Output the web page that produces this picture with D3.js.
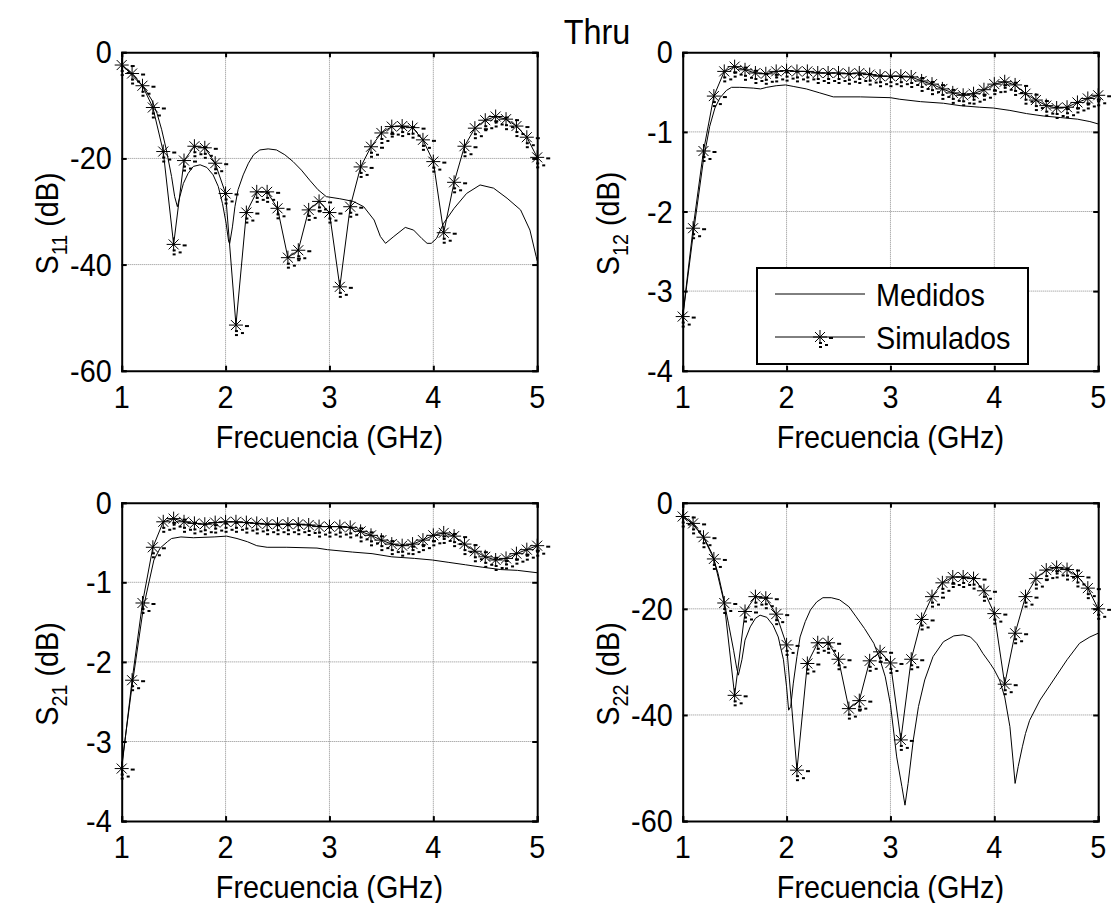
<!DOCTYPE html>
<html>
<head>
<meta charset="utf-8">
<script src="https://cdn.jsdelivr.net/npm/d3@7"></script>
<style>
  body { margin: 0; background: #fff; }
  svg text { font-family: "Liberation Sans", Arial, sans-serif; fill: #000; }
</style>
</head>
<body>
<div id="chart"></div>
<script>
// Frecuencias de los puntos simulados (GHz)
const simFreq = [1.0,1.1,1.2,1.3,1.4,1.5,1.6,1.7,1.8,1.9,
                 2.0,2.1,2.2,2.3,2.4,2.5,2.6,2.7,2.8,2.9,
                 3.0,3.1,3.2,3.3,3.4,3.5,3.6,3.7,3.8,3.9,
                 4.0,4.1,4.2,4.3,4.4,4.5,4.6,4.7,4.8,4.9,5.0];

const s11Sim = [-2.4,-4.0,-6.3,-10.4,-18.7,-36.2,-20.4,-17.7,-18.0,-20.9,
                -26.6,-51.4,-30.2,-26.3,-26.3,-29.4,-38.7,-37.3,-29.7,-28.1,
                -30.2,-44.2,-29.1,-21.6,-17.8,-15.2,-14.0,-13.9,-14.2,-16.5,
                -20.6,-34.0,-24.5,-17.7,-14.3,-12.8,-12.1,-12.6,-13.9,-16.0,-19.8];
const s22Sim = [-2.6,-3.9,-6.5,-10.6,-18.9,-36.3,-20.5,-17.7,-18.0,-21.0,
                -26.8,-50.4,-30.3,-26.4,-26.4,-29.5,-38.8,-37.3,-29.8,-28.1,
                -30.2,-44.7,-29.5,-22.0,-17.7,-15.1,-14.0,-14.0,-14.3,-16.6,
                -20.9,-34.2,-24.6,-17.7,-14.3,-12.7,-12.2,-12.6,-13.9,-16.1,-20.0];
const s12Sim = [-3.32,-2.21,-1.24,-0.55,-0.24,-0.18,-0.22,-0.26,-0.27,-0.24,
                -0.23,-0.24,-0.24,-0.26,-0.26,-0.26,-0.27,-0.26,-0.28,-0.30,
                -0.30,-0.30,-0.31,-0.36,-0.40,-0.46,-0.51,-0.54,-0.52,-0.47,
                -0.40,-0.37,-0.41,-0.52,-0.60,-0.67,-0.70,-0.69,-0.63,-0.58,-0.54];
const s21Sim = [-3.34,-2.23,-1.26,-0.56,-0.24,-0.20,-0.24,-0.26,-0.27,-0.25,
                -0.24,-0.24,-0.25,-0.26,-0.27,-0.27,-0.27,-0.27,-0.28,-0.30,
                -0.30,-0.30,-0.31,-0.36,-0.41,-0.47,-0.52,-0.54,-0.52,-0.47,
                -0.41,-0.38,-0.42,-0.52,-0.61,-0.68,-0.72,-0.70,-0.64,-0.59,-0.54];

// Curvas medidas
const s11MeasF = [1.00,1.11,1.21,1.29,1.34,1.385,1.43,1.48,1.51,1.536,1.56,1.594,1.64,1.69,1.755,
                  1.82,1.88,1.93,1.97,2.005,2.03,2.04,2.066,2.09,2.12,2.17,2.22,2.27,2.33,2.41,
                  2.49,2.57,2.65,2.73,2.81,2.89,2.97,3.10,3.23,3.33,3.43,3.49,3.54,3.62,3.73,
                  3.81,3.89,3.94,3.98,4.03,4.10,4.20,4.32,4.45,4.58,4.71,4.84,4.93,4.99,5.00];
const s11MeasDb = [-2.2,-4.6,-6.5,-9.0,-11.5,-14.6,-18.4,-23.4,-27.2,-29.1,-27.2,-24.7,-22.8,-21.5,-21.2,
                   -21.7,-23.1,-25.3,-28.5,-32.2,-35.7,-36.0,-32.9,-29.1,-25.9,-23.1,-20.9,-19.3,-18.4,-18.2,
                   -18.4,-19.3,-20.6,-22.2,-24.1,-25.9,-27.2,-27.6,-28.1,-29.1,-31.6,-34.7,-36.0,-34.7,-33.0,
                   -33.5,-35.1,-36.0,-36.0,-35.1,-32.2,-29.4,-26.6,-25.0,-25.6,-27.5,-29.7,-33.5,-38.5,-39.3];

const s22MeasF = [1.00,1.10,1.20,1.28,1.34,1.39,1.44,1.49,1.52,1.536,1.57,1.60,1.65,1.70,1.745,
                  1.81,1.87,1.92,1.97,2.00,2.02,2.04,2.065,2.10,2.13,2.18,2.23,2.29,2.35,2.43,
                  2.51,2.60,2.67,2.75,2.84,2.90,2.95,3.00,3.06,3.11,3.14,3.17,3.22,3.27,3.33,
                  3.41,3.51,3.61,3.70,3.77,3.83,3.89,3.96,4.00,4.05,4.10,4.15,4.18,4.20,4.23,
                  4.27,4.30,4.34,4.44,4.57,4.70,4.82,4.92,5.00];
const s22MeasDb = [-2.3,-4.2,-6.4,-9.5,-13.3,-17.7,-22.7,-27.8,-31.2,-32.5,-29.6,-25.9,-23.4,-21.8,-21.2,
                   -21.6,-23.1,-25.3,-29.6,-34.7,-39.1,-38.4,-34.0,-29.0,-25.3,-22.4,-20.2,-18.7,-17.9,-17.9,
                   -18.3,-19.6,-21.5,-23.7,-26.5,-29.6,-32.8,-38.0,-47.9,-53.5,-57.0,-52.9,-44.7,-38.4,-33.4,
                   -29.0,-26.2,-25.1,-24.9,-25.3,-26.5,-28.4,-30.3,-31.5,-33.4,-36.6,-42.2,-48.5,-52.9,-49.7,
                   -46.0,-43.5,-41.0,-37.2,-33.4,-29.6,-26.5,-25.3,-24.6];

const s12MeasF = [1.00,1.10,1.20,1.26,1.31,1.36,1.42,1.47,1.55,1.68,1.75,1.81,1.90,1.99,2.07,2.19,2.32,
                  2.45,2.71,3.00,3.09,3.29,3.51,3.67,3.86,3.99,4.15,4.31,4.47,4.64,4.80,4.92,5.00];
const s12MeasDb = [-3.33,-2.30,-1.35,-0.93,-0.70,-0.57,-0.48,-0.44,-0.44,-0.45,-0.46,-0.44,-0.42,-0.41,-0.43,-0.46,-0.51,
                   -0.56,-0.56,-0.57,-0.59,-0.62,-0.64,-0.67,-0.69,-0.70,-0.73,-0.77,-0.80,-0.82,-0.84,-0.87,-0.90];

const s21MeasF = [1.00,1.10,1.21,1.31,1.37,1.44,1.48,1.57,1.69,1.89,2.01,2.11,2.21,2.30,2.40,2.59,
                  2.88,2.98,3.22,3.41,3.60,3.82,3.99,4.15,4.31,4.47,4.65,4.81,5.00];
const s21MeasDb = [-3.30,-2.30,-1.31,-0.72,-0.57,-0.49,-0.45,-0.43,-0.44,-0.43,-0.42,-0.45,-0.49,-0.54,-0.56,-0.56,
                   -0.57,-0.59,-0.62,-0.64,-0.68,-0.70,-0.72,-0.75,-0.78,-0.81,-0.84,-0.85,-0.88];

const xTicks = [1, 2, 3, 4, 5];
const reflTicks = [0, -20, -40, -60];
const transTicks = [0, -1, -2, -3, -4];
const legendLabels = ["Medidos", "Simulados"];

const W = 1111, H = 903;
const svg = d3.select("#chart").append("svg")
  .attr("width", W).attr("height", H);

const pw = 415.5, ph = 318.4;
const panels = [
  { x0: 121.7, y0: 52.3, yDom: [-60, 0], ticks: reflTicks, sub: "11", mf: s11MeasF, md: s11MeasDb, sim: s11Sim },
  { x0: 682.7, y0: 52.3, yDom: [-4, 0], ticks: transTicks, sub: "12", mf: s12MeasF, md: s12MeasDb, sim: s12Sim, legend: true },
  { x0: 121.7, y0: 502.7, yDom: [-4, 0], ticks: transTicks, sub: "21", mf: s21MeasF, md: s21MeasDb, sim: s21Sim },
  { x0: 682.7, y0: 502.7, yDom: [-60, 0], ticks: reflTicks, sub: "22", mf: s22MeasF, md: s22MeasDb, sim: s22Sim }
];

const FS = 32, SX = 0.9;   // letra algo estrecha como en la figura

// texto con escala horizontal
function label(parent, x, y, str, anchor, size, rot) {
  const t = parent.append("text")
    .attr("transform", `translate(${x},${y})${rot ? " rotate(" + rot + ")" : ""} scale(${SX},1)`)
    .attr("text-anchor", anchor || "start")
    .style("font-size", (size || FS) + "px");
  if (str !== null) t.text(str);
  return t;
}

// marcador '*' con las rayitas sueltas que aparecen en la figura original
function star(g, cx, cy) {
  const r = 7, d = 5;
  const m = g.append("g").attr("transform", `translate(${cx},${cy})`);
  const segs = [[-r, 0, r, 0], [0, -r, 0, r], [-d, -d, d, d], [-d, d, d, -d]];
  segs.forEach(s => m.append("line")
    .attr("x1", s[0]).attr("y1", s[1]).attr("x2", s[2]).attr("y2", s[3])
    .attr("stroke", "#000").attr("stroke-width", 1));
  [[9, 1, 13, 1], [-1, 6, 2, 6], [-1, 10, 2, 10], [5, 8, 8, 8]].forEach(s => m.append("line")
    .attr("x1", s[0]).attr("y1", s[1]).attr("x2", s[2]).attr("y2", s[3])
    .attr("stroke", "#000").attr("stroke-width", 2));
}

panels.forEach(p => {
  const g = svg.append("g").attr("transform", `translate(${p.x0},${p.y0})`);
  const x = d3.scaleLinear().domain([1, 5]).range([0, pw]);
  const y = d3.scaleLinear().domain(p.yDom).range([ph, 0]);

  // rejilla punteada
  g.selectAll(".gx").data(xTicks.slice(1, -1)).enter().append("line")
    .attr("x1", d => x(d)).attr("x2", d => x(d)).attr("y1", 0).attr("y2", ph)
    .attr("stroke", "#8c8c8c").attr("stroke-width", 1).attr("stroke-dasharray", "1,1");
  g.selectAll(".gy").data(p.ticks.slice(1, -1)).enter().append("line")
    .attr("y1", d => y(d)).attr("y2", d => y(d)).attr("x1", 0).attr("x2", pw)
    .attr("stroke", "#8c8c8c").attr("stroke-width", 1).attr("stroke-dasharray", "1,1");

  // ejes (marcas hacia dentro en los cuatro lados), etiquetas aparte
  const axB = g.append("g").attr("transform", `translate(0,${ph})`)
    .call(d3.axisBottom(x).tickValues(xTicks).tickSize(-5).tickFormat(""));
  const axT = g.append("g")
    .call(d3.axisTop(x).tickValues(xTicks).tickSize(-5).tickFormat(""));
  const axL = g.append("g")
    .call(d3.axisLeft(y).tickValues(p.ticks).tickSize(-5).tickFormat(""));
  const axR = g.append("g").attr("transform", `translate(${pw},0)`)
    .call(d3.axisRight(y).tickValues(p.ticks).tickSize(-5).tickFormat(""));
  [axB, axT, axL, axR].forEach(a => {
    a.select(".domain").attr("stroke", "#000").attr("stroke-width", 2);
    a.selectAll(".tick line").attr("stroke", "#000").attr("stroke-width", 2);
  });

  xTicks.forEach(t => label(g, x(t), ph + 37, String(t), "middle"));
  p.ticks.forEach(t => label(g, -10, y(t) + 11, String(t), "end"));

  // curva medida
  const meas = p.mf.map((f, i) => [f, p.md[i]]);
  g.append("path").datum(meas)
    .attr("d", d3.line().x(d => x(d[0])).y(d => y(d[1])))
    .attr("fill", "none").attr("stroke", "#000").attr("stroke-width", 1);

  // curva simulada
  const sim = simFreq.map((f, i) => [f, p.sim[i]]);
  g.append("path").datum(sim)
    .attr("d", d3.line().x(d => x(d[0])).y(d => y(d[1])))
    .attr("fill", "none").attr("stroke", "#000").attr("stroke-width", 1);
  sim.forEach(d => star(g, x(d[0]), y(d[1])));

  // etiquetas de ejes
  label(g, pw / 2, ph + 77, "Frecuencia (GHz)", "middle");

  const yl = label(g, -64, ph / 2 + 12, null, "middle", FS, -90);
  yl.append("tspan").text("S");
  yl.append("tspan").attr("dy", 9).style("font-size", "22px").text(p.sub);
  yl.append("tspan").attr("dy", -9).text("  (dB)");

  if (p.legend) {
    const lx = 757 - p.x0, ly = 268 - p.y0;
    const lg = g.append("g").attr("transform", `translate(${lx},${ly})`);
    lg.append("rect").attr("width", 271).attr("height", 96)
      .attr("fill", "#fff").attr("stroke", "#000").attr("stroke-width", 2);
    legendLabels.forEach((t, i) => {
      const yy = 26 + i * 43;
      lg.append("line").attr("x1", 18).attr("x2", 108).attr("y1", yy).attr("y2", yy)
        .attr("stroke", "#000").attr("stroke-width", 1);
      if (i === 1) star(lg, 63, yy);
      label(lg, 119, yy + 12, t, "start");
    });
  }
});

// título
label(svg, 597, 44, "Thru", "middle", 36);
</script>
</body>
</html>
